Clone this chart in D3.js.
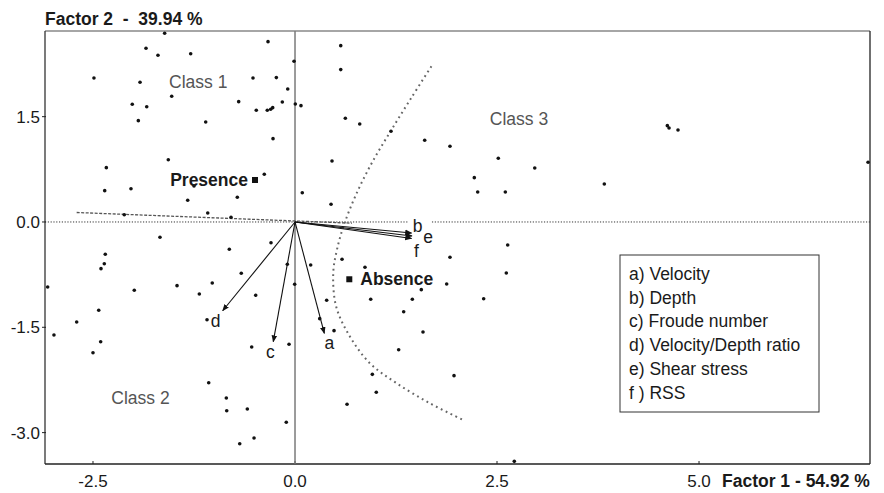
<!DOCTYPE html>
<html lang="en">
<head>
  <meta charset="UTF-8">
  <title>Factorial map - Factor 1 x Factor 2</title>
  <script src="https://d3js.org/d3.v7.min.js"></script>
  <style>
    body {
      margin: 0;
      background: #fff;
    }
    svg text {
      font-family: "Liberation Sans", Arial, sans-serif;
      fill: #1a1a1a;
    }
    .tick-label { font-size: 17px; }
    .axis-title { font-size: 17.5px; font-weight: bold; white-space: pre; }
    .class-label { font-size: 17.5px; fill: #555; }
    .group-label { font-size: 17.5px; font-weight: bold; }
    .var-label { font-size: 17.5px; }
    .legend-text { font-size: 17.5px; white-space: pre; }
  </style>
</head>
<body>
  <svg width="884" height="493"></svg>

  <script>
    // axis ticks
    const xTicks = [-2.5, 0.0, 2.5, 5.0];
    const yTicks = [-3.0, -1.5, 0.0, 1.5];

    // observations (Factor 1, Factor 2)
    const obsF1 = [-1.613, -1.844, -1.696, -1.291, -0.334, -0.012, -2.488, -1.918, -0.520, -0.231,
      -0.090, -1.526, -2.014, -1.835, -0.697, -0.479, -0.343, -0.301, -0.276, -0.157,
      0.004, -1.939, -1.105, -0.272, -2.335, -1.568, -0.380, -2.355, -2.030, -1.250,
      -1.328, -0.714, -2.113, -1.080, -0.792, -1.671, -0.297, -0.813,
      0.566, 0.566, 0.074, 0.623, 0.801, 1.188, 1.605, 1.918, 2.516, 2.967,
      0.458, 2.219, 2.261, 2.603, 0.090, 0.446, 2.632,
      4.608, 4.629, 4.740, 3.828, 7.092,
      -2.348, -2.360, -2.401, -0.095, -0.665, -3.061, -1.989, -1.460, -1.184, -1.024,
      -0.486, -0.004, -2.429, -2.702, -1.089, -2.983, -2.405, -2.500, -0.536, -0.074,
      -1.068, -0.850, -0.845, -0.590, -0.108, -0.684, -0.507,
      0.194, 0.582, 0.866, 1.918, 2.615, 1.877, 1.563, 0.392, 0.937, 1.452,
      2.335, 1.345, 0.306, 0.483, 1.584, 1.283, 0.957, 1.968, 1.006, 0.644, 2.714];
    const obsF2 = [2.688, 2.474, 2.375, 2.397, 2.568, 2.289, 2.051, 1.990, 2.051, 2.056,
      1.895, 1.790, 1.677, 1.642, 1.714, 1.591, 1.591, 1.605, 1.628, 1.709,
      1.681, 1.443, 1.425, 1.187, 0.774, 0.887, 0.679, 0.446, 0.474, 0.513,
      0.309, 0.352, 0.104, 0.128, 0.067, -0.218, -0.295, -0.389,
      2.511, 2.170, 1.657, 1.477, 1.396, 1.292, 1.164, 1.078, 0.907, 0.769,
      0.869, 0.631, 0.427, 0.427, 0.417, 0.252, -0.328,
      1.372, 1.339, 1.311, 0.541, 0.850,
      -0.460, -0.594, -0.665, -0.603, -0.731, -0.926, -0.973, -0.907, -1.026, -0.869,
      -1.044, -0.887, -1.258, -1.425, -1.392, -1.610, -1.705, -1.862, -1.781, -1.742,
      -2.289, -2.507, -2.688, -2.664, -2.853, -3.158, -3.077,
      -0.613, -0.531, -0.645, -0.503, -0.726, -0.883, -0.964, -1.115, -1.101, -1.101,
      -1.093, -1.278, -1.377, -1.548, -1.567, -1.819, -2.170, -2.189, -2.426, -2.597, -3.409];

    // hydraulic variables (arrows)
    const varKeys = ["a", "b", "c", "d", "e", "f"];
    const varNames = ["Velocity", "Depth", "Froude number", "Velocity/Depth ratio", "Shear stress", "RSS"];
    const varF1 = [0.363, 1.442, -0.269, -0.895, 1.448, 1.442];
    const varF2 = [-1.586, -0.157, -1.705, -1.264, -0.199, -0.235];

    // presence / absence centroids
    const groupNames = ["Presence", "Absence"];
    const groupF1 = [-0.495, 0.672];
    const groupF2 = [0.598, -0.816];

    // class annotations
    const classNames = ["Class 1", "Class 2", "Class 3"];
    const classF1 = [-1.197, -1.912, 2.772];
    const classF2 = [1.994, -2.503, 1.463];

    // class boundary (dotted curve)
    const boundaryF1 = [1.688, 1.436, 1.188, 0.953, 0.755, 0.607, 0.520, 0.473, 0.510, 0.681, 0.928, 1.259, 1.671, 2.083];
    const boundaryF2 = [2.217, 1.762, 1.302, 0.846, 0.389, -0.038, -0.390, -0.731, -1.207, -1.634, -2.013, -2.298, -2.583, -2.821];

    // supplementary axis (dashed)
    const supF1 = [-2.702, 0.705];
    const supF2 = [0.135, -0.017];

    const svg = d3.select("svg");
    const plotL = 45, plotR = 870, plotT = 31, plotB = 464;

    const x = d3.scaleLinear().domain([-3.094, 7.116]).range([plotL, plotR]);
    const y = d3.scaleLinear().domain([-3.447, 2.72]).range([plotB, plotT]);

    svg.append("defs").append("marker")
      .attr("id", "arrow")
      .attr("viewBox", "0 0 10 10")
      .attr("refX", 9).attr("refY", 5)
      .attr("markerWidth", 7).attr("markerHeight", 7)
      .attr("markerUnits", "userSpaceOnUse")
      .attr("orient", "auto")
      .append("path")
        .attr("d", "M0,1 L10,5 L0,9 Z")
        .attr("fill", "#111");

    // frame
    svg.append("line").attr("x1", plotL).attr("x2", plotR).attr("y1", plotT).attr("y2", plotT)
      .attr("stroke", "#888").attr("stroke-width", 1.5);
    svg.append("line").attr("x1", plotL).attr("x2", plotL).attr("y1", plotT).attr("y2", plotB)
      .attr("stroke", "#333").attr("stroke-width", 1.3);
    svg.append("line").attr("x1", plotL).attr("x2", plotR).attr("y1", plotB).attr("y2", plotB)
      .attr("stroke", "#222").attr("stroke-width", 1.3);
    svg.append("line").attr("x1", plotR).attr("x2", plotR).attr("y1", plotT).attr("y2", plotB)
      .attr("stroke", "#222").attr("stroke-width", 1.3);

    // x ticks (inside) and labels
    svg.selectAll(".xtick").data(xTicks).enter().append("line")
      .attr("x1", d => x(d)).attr("x2", d => x(d))
      .attr("y1", plotB).attr("y2", plotB - 3)
      .attr("stroke", "#222");
    svg.selectAll(".xlab").data(xTicks).enter().append("text")
      .attr("class", "tick-label")
      .attr("x", d => x(d)).attr("y", 487)
      .attr("text-anchor", "middle")
      .text(d => d.toFixed(1));

    // y ticks (outside) and labels
    svg.selectAll(".ytick").data(yTicks).enter().append("line")
      .attr("x1", plotL - 3).attr("x2", plotL + 1)
      .attr("y1", d => y(d)).attr("y2", d => y(d))
      .attr("stroke", "#222");
    svg.selectAll(".ylab").data(yTicks).enter().append("text")
      .attr("class", "tick-label")
      .attr("x", 40).attr("y", d => y(d) + 6)
      .attr("text-anchor", "end")
      .text(d => d.toFixed(1));

    // axis titles
    svg.append("text").attr("class", "axis-title")
      .attr("x", plotL).attr("y", 25)
      .text("Factor 2  -  39.94 %");
    svg.append("text").attr("class", "axis-title")
      .attr("x", 722).attr("y", 487)
      .text("Factor 1 - 54.92 %");

    // origin lines
    svg.append("line")
      .attr("x1", x(0)).attr("x2", x(0)).attr("y1", plotT).attr("y2", plotB)
      .attr("stroke", "#7a7a7a").attr("stroke-width", 1.5);
    // horizontal dotted, broken for label b
    [[x.invert(plotL), 1.40], [1.695, x.invert(plotR)]].forEach(seg => {
      svg.append("line")
        .attr("x1", x(seg[0])).attr("x2", x(seg[1]))
        .attr("y1", y(0)).attr("y2", y(0))
        .attr("stroke", "#333").attr("stroke-width", 1)
        .attr("stroke-dasharray", "1.2,1.6");
    });

    // supplementary dashed axis
    svg.append("line")
      .attr("x1", x(supF1[0])).attr("y1", y(supF2[0]))
      .attr("x2", x(supF1[1])).attr("y2", y(supF2[1]))
      .attr("stroke", "#555").attr("stroke-width", 1.3)
      .attr("stroke-dasharray", "3,1.5");

    // class boundary
    const boundary = d3.line()
      .x(d => x(d[0])).y(d => y(d[1]))
      .curve(d3.curveCatmullRom.alpha(0.5));
    svg.append("path")
      .attr("d", boundary(d3.zip(boundaryF1, boundaryF2)))
      .attr("fill", "none")
      .attr("stroke", "#666").attr("stroke-width", 2)
      .attr("stroke-dasharray", "1.8,3.6");

    // observations
    svg.selectAll(".obs").data(d3.zip(obsF1, obsF2)).enter().append("circle")
      .attr("cx", d => x(d[0])).attr("cy", d => y(d[1]))
      .attr("r", 1.8).attr("fill", "#111");

    // variable arrows
    const vars = varKeys.map((k, i) => ({ key: k, f1: varF1[i], f2: varF2[i] }));
    svg.selectAll(".arrow").data(vars).enter().append("line")
      .attr("x1", x(0)).attr("y1", y(0))
      .attr("x2", d => x(d.f1)).attr("y2", d => y(d.f2))
      .attr("stroke", "#111").attr("stroke-width", 1.1)
      .attr("marker-end", "url(#arrow)");
    const labelOffset = { a: [5, 16], b: [6, -1.5], c: [-3, 16], d: [-7, 16], e: [16, 7], f: [5, 19] };
    svg.selectAll(".varlab").data(vars).enter().append("text")
      .attr("class", "var-label")
      .attr("x", d => x(d.f1) + labelOffset[d.key][0])
      .attr("y", d => y(d.f2) + labelOffset[d.key][1])
      .attr("text-anchor", "middle")
      .text(d => d.key);

    // presence / absence
    groupNames.forEach((g, i) => {
      const cx = x(groupF1[i]), cy = y(groupF2[i]);
      svg.append("rect").attr("x", cx - 3).attr("y", cy - 3)
        .attr("width", 6).attr("height", 6).attr("fill", "#111");
      svg.append("text").attr("class", "group-label")
        .attr("x", i === 0 ? cx - 7 : cx + 11)
        .attr("y", cy + 6)
        .attr("text-anchor", i === 0 ? "end" : "start")
        .text(g);
    });

    // class labels
    svg.selectAll(".classlab").data(classNames).enter().append("text")
      .attr("class", "class-label")
      .attr("x", (d, i) => x(classF1[i])).attr("y", (d, i) => y(classF2[i]) + 6)
      .attr("text-anchor", "middle")
      .text(d => d);

    // legend
    const legend = svg.append("g").attr("transform", "translate(620,255)");
    legend.append("rect")
      .attr("width", 199).attr("height", 157)
      .attr("fill", "#fff").attr("stroke", "#333").attr("stroke-width", 1);
    legend.selectAll("text").data(varNames).enter().append("text")
      .attr("class", "legend-text")
      .attr("x", 9).attr("y", (d, i) => 25 + i * 23.7)
      .text((d, i) => varKeys[i] + (varKeys[i] === "f" ? " ) " : ") ") + d);
  </script>
</body>
</html>
